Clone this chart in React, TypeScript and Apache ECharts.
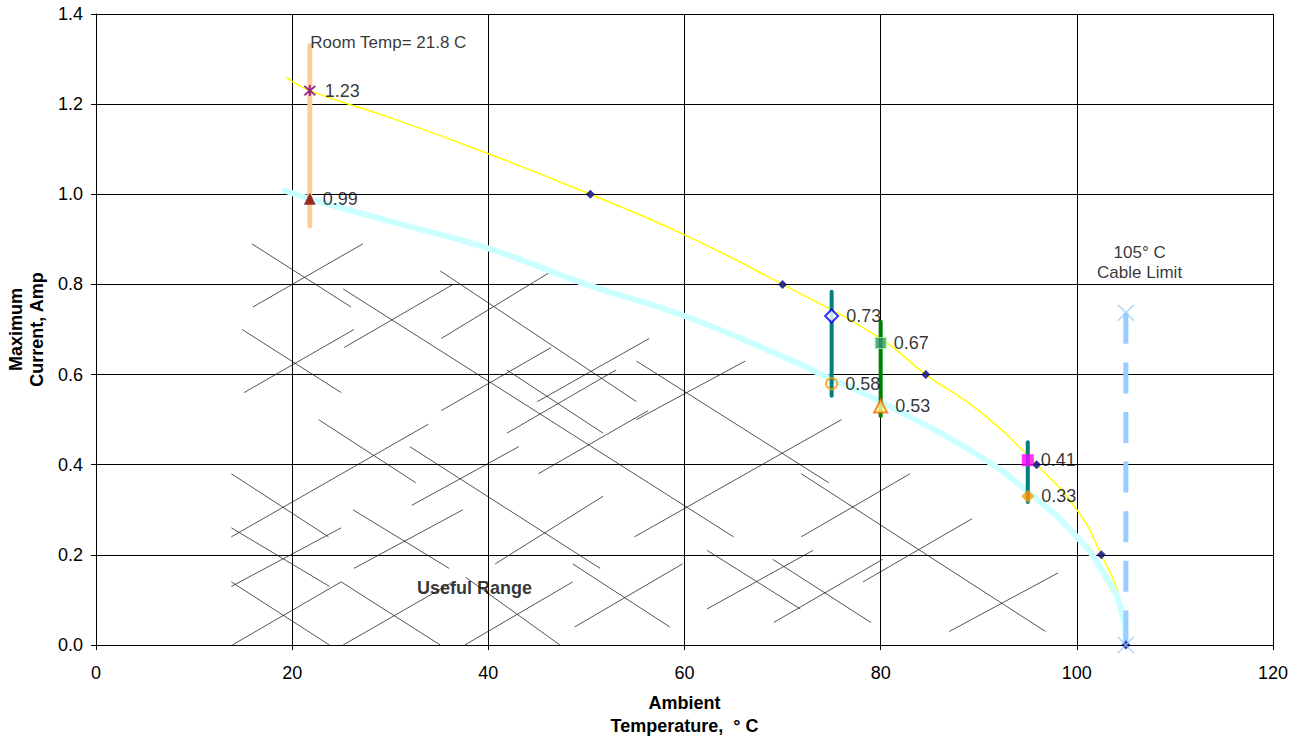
import React, { useEffect, useRef } from "react";
import * as echarts from "echarts";

const FONT = "Liberation Sans, Arial, sans-serif";

// axes
const xMin = 0, xMax = 120, xStep = 20;
const yMin = 0, yMax = 1.4, yStep = 0.2;

// upper (yellow) curve
const yellowCurve: number[][] = [
  [19.4, 1.26], [21.8, 1.23], [30, 1.17], [40, 1.09], [50.4, 1.0], [60, 0.91],
  [70, 0.8], [80, 0.68], [84.6, 0.6], [90, 0.52], [95.9, 0.4], [100, 0.3],
  [102.5, 0.2], [104.4, 0.1], [105, 0],
];
// navy markers on the yellow curve
const yellowMarks: number[][] = [
  [50.4, 1.0], [70, 0.8], [84.6, 0.6], [95.9, 0.4], [102.5, 0.2], [105, 0],
];
// lower (cyan) curve
const cyanCurve: number[][] = [
  [19, 1.01], [21.8, 0.99], [30, 0.94], [40, 0.88], [50, 0.8], [60, 0.73],
  [70, 0.64], [75, 0.59], [80, 0.54], [90, 0.42], [95, 0.34], [100, 0.24],
  [103, 0.15], [104.5, 0.08], [105, 0],
];

// vertical range bars [x, yStart, yEnd]
const roomBar = [21.8, 0.93, 1.33];
const bar75 = [75, 0.553, 0.784];
const bar80 = [80, 0.508, 0.717];
const bar95 = [95, 0.317, 0.45];
const cableBar = [105, 0.737, 0];

// labelled points
const ptRoomHigh = [21.8, 1.23];
const ptRoomLow = [21.8, 0.99];
const pt75High = [75, 0.73];
const pt75Low = [75, 0.58];
const pt80High = [80, 0.67];
const pt80Low = [80, 0.53];
const pt95High = [95, 0.41];
const pt95Low = [95, 0.33];
const cableMarks: number[][] = [[105, 0.737], [105, 0]];

// text annotations
const roomText = { pos: [21.8, 1.336], text: "Room Temp= 21.8 C" };
const cableText = { pos: [106.4, 0.848], text: "105° C\nCable Limit" };
const usefulText = { pos: [38.6, 0.127], text: "Useful Range" };

// hatch segments of the "useful range" [x1, y1, x2, y2]
const hatch: number[][] = [
  [15.9, 0.89, 26.0, 0.75], [16.0, 0.75, 27.2, 0.89], [25.2, 0.79, 65.0, 0.24],
  [25.3, 0.66, 36.4, 0.8], [35.1, 0.83, 55.1, 0.54], [35.2, 0.68, 46.5, 0.83],
  [14.9, 0.7, 25.0, 0.56], [15.1, 0.56, 26.3, 0.7], [35.2, 0.52, 46.4, 0.66],
  [41.9, 0.61, 51.7, 0.47], [45.0, 0.54, 56.4, 0.68], [41.9, 0.47, 53.0, 0.61],
  [22.7, 0.5, 32.6, 0.36], [13.8, 0.24, 33.9, 0.49], [32.0, 0.44, 51.4, 0.17],
  [32.2, 0.31, 43.1, 0.44], [45.1, 0.38, 56.3, 0.52], [13.8, 0.38, 23.7, 0.24],
  [13.8, 0.13, 25.0, 0.26], [13.8, 0.26, 23.8, 0.13], [26.2, 0.3, 36.0, 0.17],
  [26.3, 0.17, 37.4, 0.3], [40.7, 0.18, 51.7, 0.33], [48.6, 0.18, 58.5, 0.04],
  [13.8, 0.14, 23.8, 0.0], [13.9, 0.0, 25.0, 0.14], [25.0, 0.14, 35.1, 0.0],
  [25.2, 0.0, 36.4, 0.14], [37.6, 0.0, 48.6, 0.14], [37.7, 0.15, 47.3, 0.0],
  [48.8, 0.04, 59.8, 0.18], [55.1, 0.63, 74.7, 0.36], [55.1, 0.5, 66.2, 0.63],
  [54.9, 0.24, 76.0, 0.5], [71.9, 0.38, 96.8, 0.03], [71.9, 0.24, 83.0, 0.38],
  [62.3, 0.21, 71.8, 0.08], [62.3, 0.08, 73.1, 0.21], [69.0, 0.19, 79.0, 0.05],
  [69.1, 0.05, 80.2, 0.19], [78.2, 0.14, 89.3, 0.28], [87.0, 0.03, 98.1, 0.16],
];

const ASTERISK = "path://M0 0L10 10M10 0L0 10M5 -1L5 11";
const CROSS = "path://M0 0L10 10M10 0L0 10";

function barSeries(b: number[], color: string, width: number, dash?: any) {
  return {
    type: "line",
    data: [[b[0], b[1]], [b[0], b[2]]],
    symbol: "none",
    lineStyle: { color, width, cap: dash ? "butt" : "round", type: dash || "solid" },
    silent: true,
    z: 3,
  };
}

const valueLabel = {
  show: true,
  position: "right",
  distance: 7,
  fontFamily: FONT,
  fontSize: 18,
  color: "#000",
  formatter: (p: any) => p.value[1].toFixed(2),
};

function pointSeries(pt: number[], symbol: string, size: number, itemStyle: any) {
  return {
    type: "scatter",
    data: [pt],
    symbol,
    symbolSize: size,
    itemStyle,
    label: valueLabel,
    z: 5,
  };
}

function textSeries(t: { pos: number[]; text: string }, extra: any) {
  return {
    type: "scatter",
    data: [t.pos],
    symbolSize: 1,
    itemStyle: { color: "transparent" },
    label: {
      show: true,
      formatter: t.text,
      fontFamily: FONT,
      color: "#000",
      ...extra,
    },
    silent: true,
    z: 6,
  };
}

export default function App() {
  const ref = useRef<HTMLDivElement>(null);
  useEffect(() => {
    document.body.style.margin = "0";
    const chart = echarts.init(ref.current!, undefined, { renderer: "svg" });
    chart.setOption({
      animation: false,
      backgroundColor: "#fff",
      textStyle: { fontFamily: FONT },
      grid: {
        left: 96,
        right: 20,
        top: 14,
        bottom: 93,
        containLabel: false,
        outerBoundsMode: "none",
      },
      xAxis: {
        type: "value",
        min: xMin,
        max: xMax,
        interval: xStep,
        name: "Ambient\nTemperature,  ° C",
        nameLocation: "middle",
        nameGap: 46,
        nameTextStyle: { fontFamily: FONT, fontSize: 18, fontWeight: "bold", color: "#000", lineHeight: 23 },
        axisLine: { lineStyle: { color: "#000", width: 1 } },
        axisTick: { show: true, length: 5, lineStyle: { color: "#000" } },
        axisLabel: { fontFamily: FONT, fontSize: 18, color: "#000", margin: 19 },
        splitLine: { show: true, lineStyle: { color: "#000", width: 1 } },
      },
      yAxis: {
        type: "value",
        min: yMin,
        max: yMax,
        interval: yStep,
        name: "Maximum\nCurrent, Amp",
        nameLocation: "middle",
        nameGap: 48,
        nameTextStyle: { fontFamily: FONT, fontSize: 18, fontWeight: "bold", color: "#000", lineHeight: 21 },
        axisLine: { show: true, lineStyle: { color: "#000", width: 1 } },
        axisTick: { show: true, length: 5, lineStyle: { color: "#000" } },
        axisLabel: {
          fontFamily: FONT,
          fontSize: 18,
          color: "#000",
          margin: 13,
          formatter: (v: number) => v.toFixed(1),
        },
        splitLine: { show: true, lineStyle: { color: "#000", width: 1 } },
      },
      series: [
        {
          type: "lines",
          coordinateSystem: "cartesian2d",
          data: hatch.map((s) => ({ coords: [[s[0], s[1]], [s[2], s[3]]] })),
          lineStyle: { color: "#111", width: 0.8, opacity: 0.9 },
          silent: true,
          z: 1,
        },
        barSeries(cableBar, "#99CCFF", 5, [31, 18.6]),
        {
          type: "line",
          data: yellowCurve,
          smooth: 0.5,
          symbol: "none",
          lineStyle: { color: "#FFFF00", width: 1.5 },
          z: 2,
        },
        {
          type: "line",
          data: cyanCurve,
          smooth: 0.5,
          symbol: "none",
          lineStyle: { color: "#CCFFFF", width: 6 },
          z: 2,
        },
        barSeries(roomBar, "#FFCC99", 5),
        barSeries(bar75, "#008080", 4),
        barSeries(bar80, "#008000", 4),
        barSeries(bar95, "#008080", 4),
        {
          type: "scatter",
          data: yellowMarks,
          symbol: "diamond",
          symbolSize: 9,
          itemStyle: { color: "#000080" },
          z: 4,
        },
        {
          type: "scatter",
          data: cableMarks,
          symbol: CROSS,
          symbolSize: 16,
          itemStyle: { color: "none", borderColor: "#99CCFF", borderWidth: 1.5 },
          z: 4,
        },
        pointSeries(ptRoomHigh, ASTERISK, 11, { color: "none", borderColor: "#800080", borderWidth: 2 }),
        pointSeries(ptRoomLow, "triangle", 12, { color: "#800000" }),
        pointSeries(pt75High, "diamond", 13, { color: "#fff", borderColor: "#0000FF", borderWidth: 2 }),
        pointSeries(pt75Low, "circle", 11, { color: "rgba(0,0,0,0)", borderColor: "#FF9900", borderWidth: 2 }),
        pointSeries(pt80High, "rect", 11, { color: "#339966", borderColor: "#99FF99", borderWidth: 1 }),
        pointSeries(pt80Low, "triangle", 13, { color: "#FFFF99", borderColor: "#FF6600", borderWidth: 2 }),
        pointSeries(pt95High, "rect", 12, { color: "#FF00FF" }),
        pointSeries(pt95Low, "diamond", 13, { color: "#FF9900" }),
        textSeries(roomText, { position: "right", distance: 0, fontSize: 17 }),
        textSeries(cableText, { position: "inside", align: "center", fontSize: 17, lineHeight: 20 }),
        textSeries(usefulText, { position: "inside", align: "center", fontSize: 18, fontWeight: "bold" }),
      ],
    });
    return () => chart.dispose();
  }, []);
  return <div ref={ref} style={{ width: 1293, height: 738 }} />;
}
